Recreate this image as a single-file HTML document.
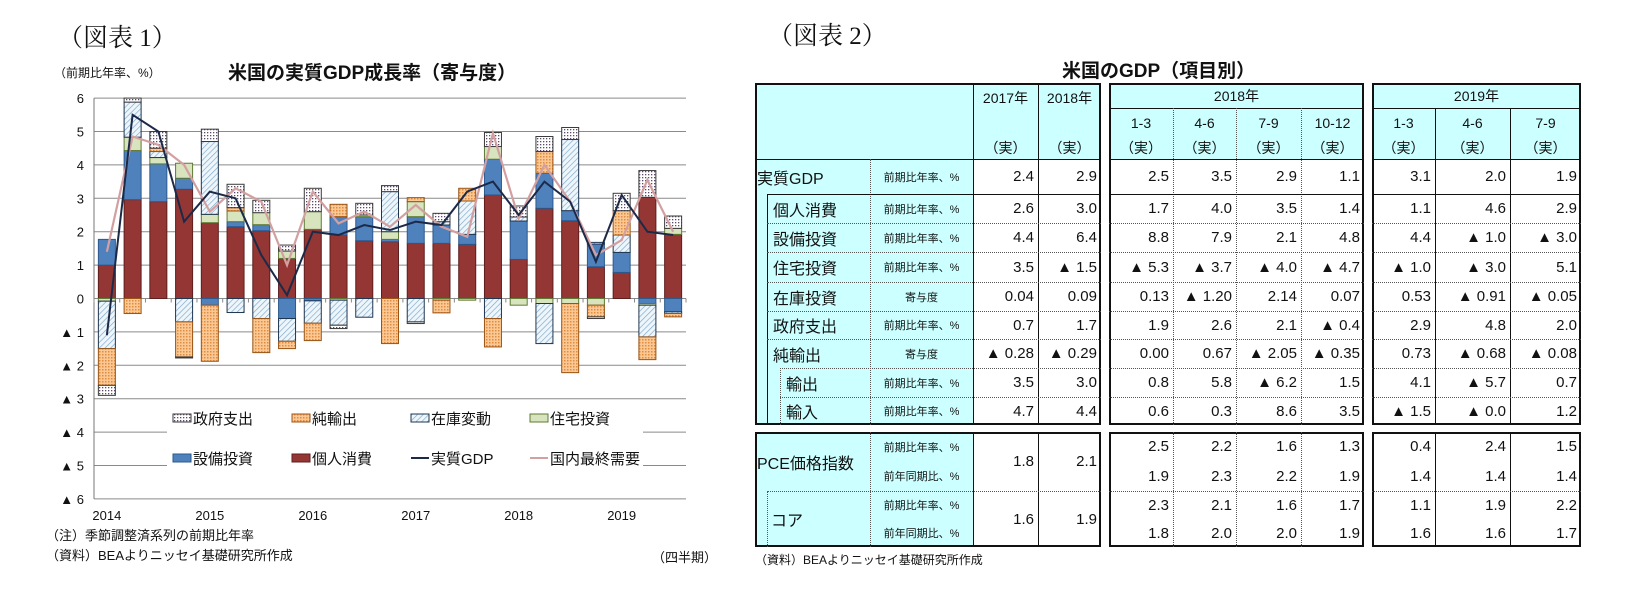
<!DOCTYPE html>
<html><head><meta charset="utf-8">
<style>
html,body{margin:0;padding:0;background:#fff;}
#page{position:relative;width:1632px;height:602px;overflow:hidden;background:#fff;font-family:"Liberation Sans","Noto Sans CJK JP",sans-serif;color:#111;}
.abs{position:absolute;white-space:nowrap;}
.serif{font-family:"Liberation Serif","Noto Serif CJK SC",serif;}
#tbl div{position:absolute;box-sizing:border-box;white-space:nowrap;}
</style></head>
<body>
<div id="page">
<div class="abs serif" style="left:58px;top:18px;font-size:25px;">（図表 1）</div>
<div class="abs" style="left:54px;top:64px;font-size:12px;">（前期比年率、%）</div>
<div class="abs" style="left:228px;top:58px;font-size:19px;font-weight:bold;">米国の実質GDP成長率（寄与度）</div>
<svg id="chart" class="abs" style="left:0;top:0" width="740" height="602">
<defs>
<pattern id="ph" width="4" height="4" patternUnits="userSpaceOnUse" patternTransform="rotate(45)"><rect width="4" height="4" fill="#eef6fb"/><line x1="0" y1="0" x2="0" y2="4" stroke="#7aa6c8" stroke-width="1.3"/></pattern>
<pattern id="po" width="3" height="3" patternUnits="userSpaceOnUse"><rect width="3" height="3" fill="#fbc894"/><rect width="1.5" height="1.5" fill="#e08c40"/></pattern>
<pattern id="pd" width="3" height="3" patternUnits="userSpaceOnUse"><rect width="3" height="3" fill="#fff"/><rect width="1.3" height="1.3" fill="#5b4a6b"/></pattern>
</defs>
<g id="grid"></g><g id="bars"></g><g id="lines"></g><g id="legend"></g>
</svg>
<div class="abs" style="left:46px;top:525px;font-size:13px;">（注）季節調整済系列の前期比年率</div>
<div class="abs" style="left:46px;top:545px;font-size:13px;">（資料）BEAよりニッセイ基礎研究所作成</div>
<div class="abs" style="left:652px;top:547px;font-size:13px;">（四半期）</div>

<div class="abs serif" style="left:768px;top:16px;font-size:25px;">（図表 2）</div>
<div class="abs" style="left:1062px;top:56px;font-size:19px;font-weight:bold;">米国のGDP（項目別）</div>
<div id="tbl" class="abs" style="left:0;top:0;width:1632px;height:602px;"></div>
<div class="abs" style="left:755px;top:551px;font-size:12px;">（資料）BEAよりニッセイ基礎研究所作成</div>
</div>
<script>
const quarters=["2014Q1","Q2","Q3","Q4","2015Q1","Q2","Q3","Q4","2016Q1","Q2","Q3","Q4","2017Q1","Q2","Q3","Q4","2018Q1","Q2","Q3","Q4","2019Q1","Q2","Q3"];
const cons=[1.0,2.96,2.9,3.27,2.27,2.15,2.03,1.2,2.07,1.9,1.73,1.7,1.65,1.65,1.62,3.1,1.17,2.7,2.33,0.95,0.78,3.03,1.92];
const capex=[0.77,1.47,1.13,0.33,-0.2,0.15,0.18,-0.6,-0.07,0.55,0.72,0.07,0.8,0.55,0.3,1.07,1.15,1.05,0.3,0.68,0.6,-0.15,-0.4];
const resid=[-0.08,0.4,0.19,0.45,0.25,0.32,0.36,0.22,0.53,-0.05,0.05,0.23,0.45,-0.05,-0.05,0.38,-0.2,-0.15,-0.15,-0.2,0.0,-0.05,0.18];
const invent=[-1.42,1.05,0.18,-0.7,2.18,-0.42,-0.6,-0.68,-0.67,-0.75,-0.56,1.2,-0.7,0.1,1.0,-0.6,0.12,-1.2,2.13,0.05,0.52,-0.95,-0.05];
const netexp=[-1.1,-0.45,0.1,-1.05,-1.68,0.1,-1.02,-0.22,-0.52,0.37,0.0,-1.35,0.12,-0.38,0.38,-0.85,0.0,0.65,-2.07,-0.35,0.73,-0.68,-0.1];
const govt=[-0.3,0.12,0.5,-0.03,0.37,0.7,0.37,0.18,0.7,-0.1,0.35,0.18,-0.05,0.25,0.0,0.42,0.33,0.45,0.36,-0.05,0.52,0.8,0.37];
const gdp=[-1.1,5.5,5.0,2.3,3.2,3.0,1.3,0.1,2.0,1.9,2.2,2.05,2.3,2.2,3.2,3.5,2.5,3.5,2.9,1.1,3.1,2.0,1.9];
const dfd=[1.4,4.85,4.6,4.0,2.6,3.3,2.9,1.0,3.2,2.25,2.6,2.15,2.8,2.15,1.85,4.95,2.4,4.0,2.9,1.3,1.75,3.55,2.0];
const yTicks=[6,5,4,3,2,1,0,-1,-2,-3,-4,-5,-6];
const yearLabels=["2014","2015","2016","2017","2018","2019"];

const NS="http://www.w3.org/2000/svg";
const X0=94,X1=686,Y0=298.5,U=33.4;
const slot=(X1-X0)/quarters.length;
function yv(v){return Y0-v*U;}
function xc(i){return X0+slot*(i+0.5);}
function mk(tag,attrs,parent){const e=document.createElementNS(NS,tag);for(const k in attrs)e.setAttribute(k,attrs[k]);parent.appendChild(e);return e;}
const grid=document.getElementById('grid');
yTicks.forEach(t=>{
  const l=mk('line',{x1:X0,x2:X1,y1:yv(t),y2:yv(t),stroke:'#8a8a8a','stroke-width':1},grid);
  
  
  const tx=mk('text',{x:84,y:yv(t)+5,'text-anchor':'end','font-size':13,fill:'#111'},grid);
  tx.textContent=t<0?('▲ '+(-t)):String(t);
  
  
});
const ax=mk('line',{x1:X0,x2:X0,y1:yv(6),y2:yv(-6),stroke:'#777'},grid);


for(let i=0;i<=quarters.length;i++){
  const tk=mk('line',{x1:X0+slot*i,x2:X0+slot*i,y1:Y0,y2:Y0+4,stroke:'#888'},grid);
  
  
}
yearLabels.forEach((y,k)=>{
  const t=mk('text',{x:xc(k*4),y:520,'text-anchor':'middle','font-size':13,fill:'#111'},grid);
  t.textContent=y;
  
  
});
const series=[
 {d:cons,fill:'#943634',st:'#5e1e1e',n:'consumption'},
 {d:capex,fill:'#4f81bd',st:'#2c5a8e',n:'capex'},
 {d:resid,fill:'#d7e4bd',st:'#5f7a35',n:'residential'},
 {d:invent,fill:'url(#ph)',st:'#1f3550',n:'inventory'},
 {d:netexp,fill:'url(#po)',st:'#9a5516',n:'net-exports'},
 {d:govt,fill:'url(#pd)',st:'#3a3a3a',n:'government'}];
const bars=document.getElementById('bars');
const bw=17;
quarters.forEach((q,i)=>{
  let pos=0,neg=0;
  series.forEach(s=>{
    const v=s.d[i]; if(!v) return;
    let a,b;
    if(v>0){a=pos;b=pos+v;pos=b;}else{a=neg;b=neg+v;neg=b;}
    const r=mk('rect',{x:xc(i)-bw/2,y:Math.min(yv(a),yv(b)),width:bw,height:Math.abs(yv(a)-yv(b)),fill:s.fill,stroke:s.st,'stroke-width':1},bars);
    
    
  });
});
const lines=document.getElementById('lines');
const p1=mk('polyline',{points:dfd.map((v,i)=>xc(i)+','+yv(v)).join(' '),fill:'none',stroke:'#d3a0a2','stroke-width':2.2},lines);


const p2=mk('polyline',{points:gdp.map((v,i)=>xc(i)+','+yv(v)).join(' '),fill:'none',stroke:'#1c2a48','stroke-width':2},lines);


const lg=document.getElementById('legend');
const lbg=mk('rect',{x:167,y:401,width:476,height:78,fill:'#fff'},lg);


const legendItems=[
 ['政府支出','url(#pd)','#3a3a3a','r',173,418],['純輸出','url(#po)','#9a5516','r',292,418],['在庫変動','url(#ph)','#1f3550','r',411,418],['住宅投資','#d7e4bd','#5f7a35','r',530,418],
 ['設備投資','#4f81bd','#2c5a8e','r',173,458],['個人消費','#943634','#5e1e1e','r',292,458],['実質GDP','#1c2a48','#1c2a48','l',411,458],['国内最終需要','#d3a0a2','#d3a0a2','l',530,458]];
legendItems.forEach(it=>{
  const g=mk('g',{},lg);
  
  
  if(it[3]==='r') mk('rect',{x:it[4],y:it[5]-4,width:18,height:8,fill:it[1],stroke:it[2]},g);
  else mk('line',{x1:it[4],x2:it[4]+18,y1:it[5],y2:it[5],stroke:it[1],'stroke-width':2},g);
  const t=mk('text',{x:it[4]+20,y:it[5]+6,'font-size':15,fill:'#111'},g);
  t.textContent=it[0];
});

/* ---------- table ---------- */
const tbl=document.getElementById('tbl');
function box(x1,y1,x2,y2,css,name){
  const d=document.createElement('div');
  d.style.cssText=`left:${x1}px;top:${y1}px;width:${x2-x1}px;height:${y2-y1}px;`+css;
  
  
  tbl.appendChild(d);return d;
}
function txt(x1,y1,x2,y2,s,align,size,name){
  const d=box(x1,y1,x2,y2,`display:flex;align-items:center;justify-content:${align};font-size:${size}px;padding:0 4px;`,name);
  d.textContent=s;return d;
}
const CY='#ccffff';
const cols=[[973,1038],[1038,1101],[1109,1173],[1173,1236],[1236,1301],[1301,1364],[1372,1435],[1435,1510],[1510,1581]];
box(755,83,1101,159,'background:'+CY,'header-bg');
box(1109,83,1364,159,'background:'+CY,'header-bg');
box(1372,83,1581,159,'background:'+CY,'header-bg');
box(755,159,973,425,'background:'+CY,'label-bg');
box(755,432,973,547,'background:'+CY,'label-bg');
const BK='2px solid #111';
[[755,83,1101,425],[1109,83,1364,425],[1372,83,1581,425],[755,432,1101,547],[1109,432,1364,547],[1372,432,1581,547]].forEach(b=>box(b[0],b[1],b[2],b[3],'border:'+BK,'block-border'));
function hl(x1,x2,y,st){box(x1,y,x2,y+1,'border-top:'+st,'row-line');}
function vl(x,y1,y2,st){box(x,y1,x+1,y2,'border-left:'+st,'col-line');}
const SOL='1px solid #111', DOT='1px dotted #555';
hl(755,1101,159,SOL);hl(1109,1364,159,SOL);hl(1372,1581,159,SOL);
hl(1109,1364,108,SOL);hl(1372,1581,108,SOL);
vl(973,83,425,SOL);vl(1038,83,425,SOL);vl(973,432,547,SOL);vl(1038,432,547,SOL);
[1173,1236,1301].forEach(x=>{vl(x,108,425,DOT);vl(x,432,547,DOT);});
[1435,1510].forEach(x=>{vl(x,108,425,SOL);vl(x,432,547,SOL);});
vl(870,159,425,DOT);vl(870,432,547,DOT);
vl(767,194,425,SOL);vl(780,368,425,DOT);vl(767,491,547,DOT);
txt(973,86,1038,110,'2017年','center',14,'col-header');
txt(1038,86,1101,110,'2018年','center',14,'col-header');
txt(973,136,1038,160,'（実）','center',14,'col-header');
txt(1038,136,1101,160,'（実）','center',14,'col-header');
txt(1109,84,1364,108,'2018年','center',14,'col-header');
txt(1372,84,1581,108,'2019年','center',14,'col-header');
const qh=['1-3','4-6','7-9','10-12','1-3','4-6','7-9'];
qh.forEach((q,k)=>{const c=cols[k+2];
  txt(c[0],111,c[1],135,q,'center',14,'quarter-header');
  txt(c[0],136,c[1],160,'（実）','center',14,'quarter-header');});
const rowY=[159,194,223,252,282,311,339,368,397,425];
const rowLabels=['実質GDP','個人消費','設備投資','住宅投資','在庫投資','政府支出','純輸出','輸出','輸入'];
const rowUnits=['前期比年率、%','前期比年率、%','前期比年率、%','前期比年率、%','寄与度','前期比年率、%','寄与度','前期比年率、%','前期比年率、%'];
const rowIndent=[755,767,767,767,767,767,767,780,780];
const rowVals=[
 ['2.4','2.9','2.5','3.5','2.9','1.1','3.1','2.0','1.9'],
 ['2.6','3.0','1.7','4.0','3.5','1.4','1.1','4.6','2.9'],
 ['4.4','6.4','8.8','7.9','2.1','4.8','4.4','▲ 1.0','▲ 3.0'],
 ['3.5','▲ 1.5','▲ 5.3','▲ 3.7','▲ 4.0','▲ 4.7','▲ 1.0','▲ 3.0','5.1'],
 ['0.04','0.09','0.13','▲ 1.20','2.14','0.07','0.53','▲ 0.91','▲ 0.05'],
 ['0.7','1.7','1.9','2.6','2.1','▲ 0.4','2.9','4.8','2.0'],
 ['▲ 0.28','▲ 0.29','0.00','0.67','▲ 2.05','▲ 0.35','0.73','▲ 0.68','▲ 0.08'],
 ['3.5','3.0','0.8','5.8','▲ 6.2','1.5','4.1','▲ 5.7','0.7'],
 ['4.7','4.4','0.6','0.3','8.6','3.5','▲ 1.5','▲ 0.0','1.2']];
rowLabels.forEach((lab,r)=>{
  const y1=rowY[r],y2=rowY[r+1];
  if(r>0){hl(rowIndent[r],1101,y1,r===1?SOL:DOT);hl(1109,1364,y1,r===1?SOL:DOT);hl(1372,1581,y1,r===1?SOL:DOT);}
  txt(rowIndent[r]+(r>0?2:-2),y1,870,y2,lab,'flex-start',16,'row-label');
  txt(870,y1,973,y2,rowUnits[r],'center',11,'row-unit');
  rowVals[r].forEach((v,k)=>txt(cols[k][0],y1,cols[k][1],y2,v,'flex-end',15,'cell-value'));
});
hl(767,1101,491,DOT);hl(1109,1364,491,DOT);hl(1372,1581,491,DOT);
txt(753,432,870,491,'PCE価格指数','flex-start',16,'row-label');
txt(767,491,870,547,'コア','flex-start',16,'row-label');
const subY=[432,461,491,519,547];
const subUnits=['前期比年率、%','前年同期比、%','前期比年率、%','前年同期比、%'];
subUnits.forEach((u,k)=>txt(870,subY[k],973,subY[k+1],u,'center',11,'row-unit'));
const pceAnnual=[['1.8','2.1'],['1.6','1.9']];
pceAnnual.forEach((p,k)=>{txt(973,subY[k*2],1038,subY[k*2+2],p[0],'flex-end',15,'cell-value');txt(1038,subY[k*2],1101,subY[k*2+2],p[1],'flex-end',15,'cell-value');});
const pceVals=[
 ['2.5','2.2','1.6','1.3','0.4','2.4','1.5'],
 ['1.9','2.3','2.2','1.9','1.4','1.4','1.4'],
 ['2.3','2.1','1.6','1.7','1.1','1.9','2.2'],
 ['1.8','2.0','2.0','1.9','1.6','1.6','1.7']];
pceVals.forEach((row,k)=>row.forEach((v,j)=>txt(cols[j+2][0],subY[k],cols[j+2][1],subY[k+1],v,'flex-end',15,'cell-value')));
</script>
</body></html>
